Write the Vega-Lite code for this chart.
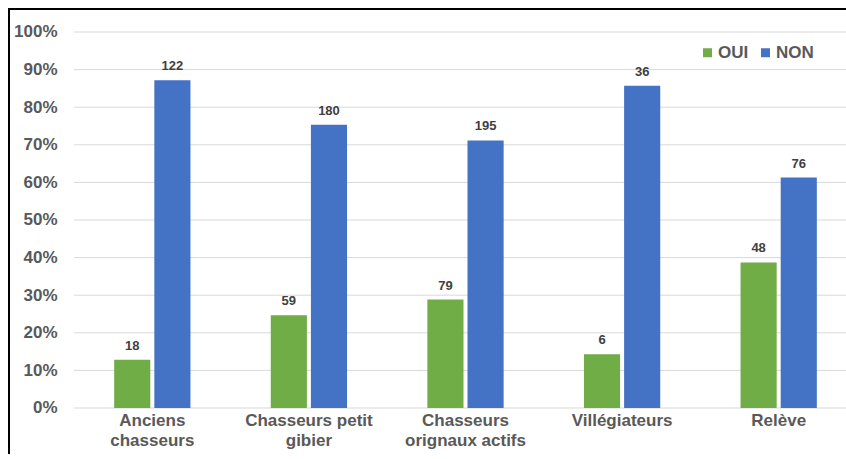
{
  "$schema": "https://vega.github.io/schema/vega-lite/v6.json",
  "width": 913,
  "height": 471,
  "autosize": {"type": "none"},
  "padding": {"left": 9, "top": 9, "right": -76, "bottom": -26},
  "background": "white",
  "config": {
    "font": "Liberation Sans",
    "view": {"stroke": "#000000", "strokeWidth": 2}
  },
  "datasets": {
    "reponses": [
      {"groupe": "Anciens chasseurs", "rep": "OUI", "n": 18, "pct": 0.1286},
      {"groupe": "Anciens chasseurs", "rep": "NON", "n": 122, "pct": 0.8714},
      {"groupe": "Chasseurs petit gibier", "rep": "OUI", "n": 59, "pct": 0.2469},
      {"groupe": "Chasseurs petit gibier", "rep": "NON", "n": 180, "pct": 0.7531},
      {"groupe": "Chasseurs orignaux actifs", "rep": "OUI", "n": 79, "pct": 0.2883},
      {"groupe": "Chasseurs orignaux actifs", "rep": "NON", "n": 195, "pct": 0.7117},
      {"groupe": "Villégiateurs", "rep": "OUI", "n": 6, "pct": 0.1429},
      {"groupe": "Villégiateurs", "rep": "NON", "n": 36, "pct": 0.8571},
      {"groupe": "Relève", "rep": "OUI", "n": 48, "pct": 0.3871},
      {"groupe": "Relève", "rep": "NON", "n": 76, "pct": 0.6129}
    ],
    "graduations": [
      {"tick": 0}, {"tick": 0.1}, {"tick": 0.2}, {"tick": 0.3}, {"tick": 0.4}, {"tick": 0.5},
      {"tick": 0.6}, {"tick": 0.7}, {"tick": 0.8}, {"tick": 0.9}, {"tick": 1}
    ]
  },
  "layer": [
    {
      "data": {"name": "graduations"},
      "mark": {"type": "rule", "color": "#D9D9D9", "strokeWidth": 1},
      "encoding": {
        "x": {"datum": "Anciens chasseurs", "type": "nominal", "bandPosition": 0},
        "x2": {"datum": "Relève", "bandPosition": 1},
        "y": {"field": "tick", "type": "quantitative"}
      }
    },
    {
      "data": {"name": "reponses"},
      "mark": {"type": "bar"},
      "encoding": {
        "x": {
          "field": "groupe",
          "type": "nominal",
          "scale": {
            "domain": ["Anciens chasseurs", "Chasseurs petit gibier", "Chasseurs orignaux actifs", "Villégiateurs", "Relève"],
            "paddingInner": 0,
            "paddingOuter": 0.4152
          },
          "axis": {
            "orient": "bottom",
            "offset": -72,
            "title": null,
            "ticks": false,
            "domain": false,
            "grid": false,
            "labelAngle": 0,
            "labelAlign": "center",
            "labelPadding": 12,
            "labelFontSize": 17,
            "labelFontWeight": "bold",
            "labelColor": "#595959",
            "labelLineHeight": 20,
            "labelExpr": "datum.value == 'Anciens chasseurs' ? ['Anciens', 'chasseurs'] : datum.value == 'Chasseurs petit gibier' ? ['Chasseurs petit', 'gibier'] : datum.value == 'Chasseurs orignaux actifs' ? ['Chasseurs', 'orignaux actifs'] : datum.value"
          }
        },
        "xOffset": {
          "field": "rep",
          "type": "nominal",
          "sort": ["OUI", "NON"],
          "scale": {"paddingInner": 0.1, "paddingOuter": 1.007}
        },
        "y": {
          "field": "pct",
          "type": "quantitative",
          "scale": {"domain": [-0.19149, 1.06117], "nice": false, "zero": false},
          "axis": {
            "title": null,
            "values": [0, 0.1, 0.2, 0.3, 0.4, 0.5, 0.6, 0.7, 0.8, 0.9, 1],
            "format": ".0%",
            "offset": -56,
            "ticks": false,
            "domain": false,
            "grid": false,
            "labelPadding": 8,
            "labelFontSize": 17,
            "labelFontWeight": "bold",
            "labelColor": "#595959"
          }
        },
        "color": {
          "field": "rep",
          "type": "nominal",
          "sort": ["OUI", "NON"],
          "scale": {"domain": ["OUI", "NON"], "range": ["#70AD47", "#4472C4"]},
          "legend": {
            "title": null,
            "orient": "none",
            "legendX": 690,
            "legendY": 35,
            "direction": "horizontal",
            "padding": 0,
            "symbolType": "square",
            "symbolSize": 81,
            "symbolStrokeWidth": 0,
            "labelFontSize": 17,
            "labelFontWeight": "bold",
            "labelColor": "#595959",
            "labelOffset": 2,
            "columnPadding": 8
          }
        }
      }
    },
    {
      "data": {"name": "reponses"},
      "mark": {"type": "text", "fontSize": 13, "fontWeight": "bold", "color": "#404040", "baseline": "alphabetic", "dy": -10},
      "encoding": {
        "x": {"field": "groupe", "type": "nominal"},
        "xOffset": {"field": "rep", "type": "nominal", "sort": ["OUI", "NON"]},
        "y": {"field": "pct", "type": "quantitative"},
        "text": {"field": "n", "type": "quantitative"}
      }
    }
  ]
}
